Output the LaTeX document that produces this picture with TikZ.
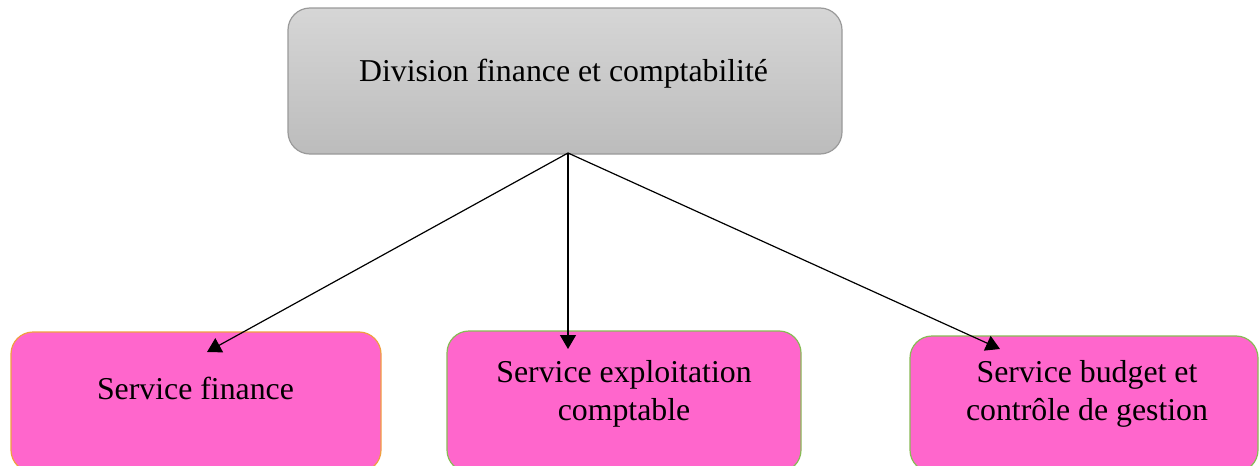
\documentclass[tikz,border=0pt]{standalone}
\usepackage{fontspec}
\setmainfont{Liberation Serif}
\usetikzlibrary{arrows.meta}
\definecolor{pinkfill}{HTML}{FF66CC}
\definecolor{orangeedge}{HTML}{F0A040}
\definecolor{greenedge}{HTML}{88BB55}
\definecolor{grayedge}{HTML}{9A9A9A}
\definecolor{graytop}{HTML}{D6D6D6}
\definecolor{graybot}{HTML}{BCBCBC}
\tikzset{
  topbox/.style={draw=grayedge, line width=0.6pt, rounded corners=11pt,
    top color=graytop, bottom color=graybot, inner sep=0pt},
  servbox/.style={fill=pinkfill, line width=0.6pt, rounded corners=11pt, inner sep=0pt},
  toplabel/.style={font=\fontsize{15.9pt}{19pt}\selectfont, anchor=base, inner sep=0pt},
  servlabel/.style={font=\fontsize{15.9pt}{19pt}\selectfont, anchor=base, align=center, inner sep=0pt},
  link/.style={draw=black, line width=0.6pt, -{Triangle[length=7pt,width=8pt]}}
}
\begin{document}
\begin{tikzpicture}[x=0.5pt,y=-0.5pt]
\useasboundingbox (0,0) rectangle (1260,466);
\clip (0,0) rectangle (1260,466);
\fill[white] (0,0) rectangle (1260,466);
\node[topbox, minimum width=277pt, minimum height=73pt] (top) at (565,81) {};
\node[toplabel] (l0) at (563.5,81) {Division finance et comptabilité};
\node[servbox, draw=orangeedge, minimum width=185pt, minimum height=70pt] (b1) at (196,402) {};
\node[servbox, draw=greenedge, minimum width=177pt, minimum height=70.5pt] (b2) at (624,401.5) {};
\node[servbox, draw=greenedge, minimum width=174pt, minimum height=68pt] (b3) at (1084,404) {};
\node[servlabel] (l1) at (195.5,399) {Service finance};
\node[servlabel] (l2) at (624,420) {Service exploitation\\comptable};
\node[servlabel] (l3) at (1087,420) {Service budget et\\contrôle de gestion};
\coordinate (o) at (568,153);
\coordinate (t1) at (207,352);
\coordinate (t2) at (568,349);
\coordinate (t3) at (1000,349);
\draw[link] (o) -- (t1);
\draw[link] (o) -- (t2);
\draw[link] (o) -- (t3);
\end{tikzpicture}
\end{document}
